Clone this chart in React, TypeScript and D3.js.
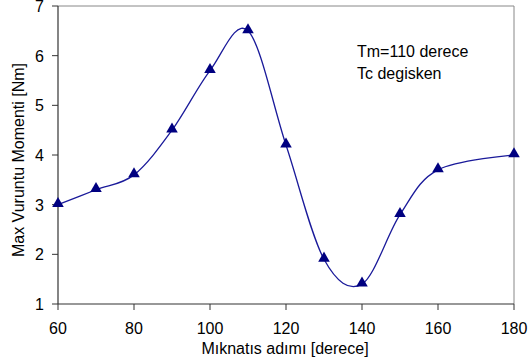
import React from "react";
import * as d3 from "d3";

const angles = [60, 70, 80, 90, 100, 110, 120, 130, 140, 150, 160, 180];
const torque = [3.0, 3.3, 3.6, 4.5, 5.7, 6.5, 4.2, 1.9, 1.4, 2.8, 3.7, 4.0];
const xTicks = [60, 80, 100, 120, 140, 160, 180];
const yTicks = [1, 2, 3, 4, 5, 6, 7];
const annotation = ["Tm=110 derece", "Tc degisken"];

const W = 530, H = 362;
const L = 58, R = 514, T = 6, B = 304;
const FONT = "'Liberation Sans', Arial, sans-serif";
const FS = 16;

export default function App() {
  const x = d3.scaleLinear().domain([60, 180]).range([L, R]);
  const y = d3.scaleLinear().domain([1, 7]).range([B, T]);
  const pts = angles.map((a, i) => [x(a), y(torque[i])] as [number, number]);
  const line = d3.line().curve(d3.curveCardinal.tension(0))(pts) || "";
  const tri = d3.symbol().type(d3.symbolTriangle).size(58)() || "";
  return (
    <svg width={W} height={H} style={{ position: "absolute", left: 0, top: 0, background: "#fff" }}>
      <line x1={L} x2={R} y1={T} y2={T} stroke="#888" strokeWidth={1} />
      <line x1={R} x2={R} y1={T} y2={B} stroke="#888" strokeWidth={1} />
      <line x1={L} x2={L} y1={T} y2={B} stroke="#333" strokeWidth={1.2} />
      <line x1={L} x2={R} y1={B} y2={B} stroke="#333" strokeWidth={1.2} />
      {yTicks.map((t) => (
        <g key={"y" + t}>
          <line x1={L - 6} x2={L} y1={y(t)} y2={y(t)} stroke="#333" />
          <text x={L - 14} y={y(t) + 6} textAnchor="end" fontFamily={FONT} fontSize={FS} fill="#000">{t}</text>
        </g>
      ))}
      {xTicks.map((t) => (
        <g key={"x" + t}>
          <line x1={x(t)} x2={x(t)} y1={B} y2={B + 6} stroke="#333" />
          <text x={x(t)} y={B + 30} textAnchor="middle" fontFamily={FONT} fontSize={FS} fill="#000">{t}</text>
        </g>
      ))}
      <text x={(L + R) / 2 - 1} y={354} textAnchor="middle" fontFamily={FONT} fontSize={FS} fill="#000">Mıknatıs adımı [derece]</text>
      <text transform={`translate(24,${(T + B) / 2 + 5}) rotate(-90)`} textAnchor="middle" fontFamily={FONT} fontSize={FS} fill="#000">Max Vuruntu Momenti [Nm]</text>
      {annotation.map((s, i) => (
        <text key={s} x={357} y={57 + i * 22} fontFamily={FONT} fontSize={FS} fill="#000">{s}</text>
      ))}
      <path d={line} fill="none" stroke="#1a1a9a" strokeWidth={1.3} />
      {pts.map((p, i) => (
        <path key={i} d={tri} transform={`translate(${p[0]},${p[1] - 1})`} fill="#000080" />
      ))}
    </svg>
  );
}
